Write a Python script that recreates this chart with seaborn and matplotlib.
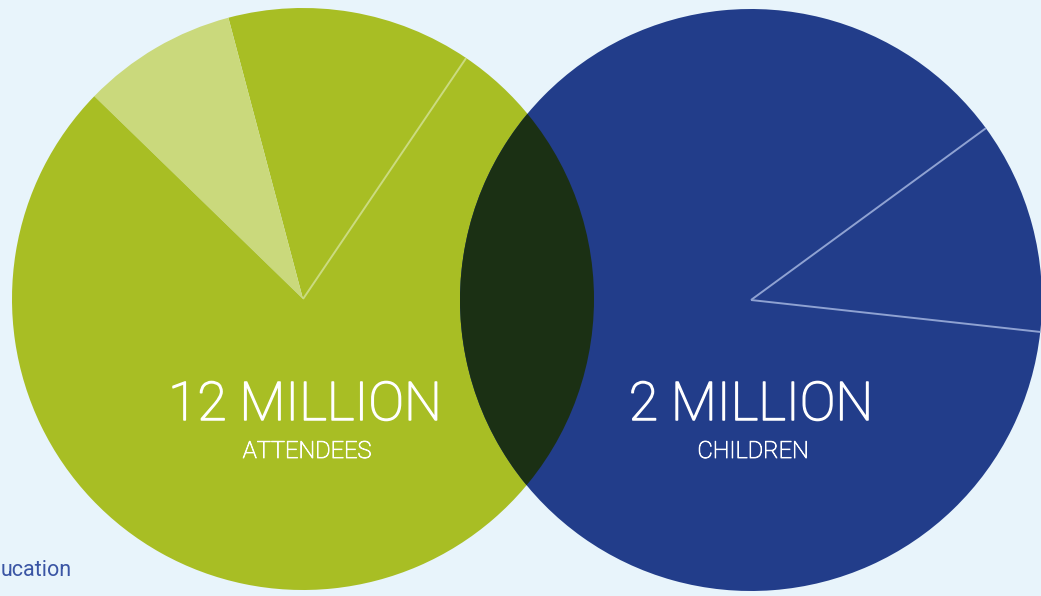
import matplotlib
matplotlib.use("Agg")
import matplotlib.pyplot as plt
import matplotlib.patches as mpatches
import matplotlib.patheffects as pe
import numpy as np
import seaborn as sns

# data
attendee_shares = [13.6, 8.6, 77.8]
attendee_colors = ["#a8be24", "#cad97c", "#a8be24"]
children_shares = [11.8, 88.2]
children_colors = ["#223d8a", "#223d8a"]
headlines = ["12 MILLION", "2 MILLION"]
sublabels = ["ATTENDEES", "CHILDREN"]

bg = "#e8f4fb"
sns.set_style("white", {"axes.facecolor": bg, "figure.facecolor": bg})
plt.rcParams["font.family"] = ["Roboto", "DejaVu Sans"]

fig = plt.figure(figsize=(10.41, 5.96), dpi=100)
ax = fig.add_axes([0, 0, 1, 1])

H = 596
r = 291
c_left = (303, H - 299)
c_right = (751, H - 300)

wl, _ = ax.pie(attendee_shares, colors=attendee_colors, startangle=55.9,
               counterclock=True, radius=r, center=c_left,
               wedgeprops=dict(linewidth=0, antialiased=True))
wr, _ = ax.pie(children_shares, colors=children_colors, startangle=-6.3,
               counterclock=True, radius=r, center=c_right,
               wedgeprops=dict(linewidth=0, antialiased=True))

# dark lens where the two circles overlap
clip = mpatches.Circle(c_right, r, transform=ax.transData, facecolor="none", edgecolor="none")
ax.add_patch(clip)
lens = mpatches.Circle(c_left, r, facecolor="#1b3014", edgecolor="none")
ax.add_patch(lens)
lens.set_clip_path(clip)

# thin separator lines
def spoke(center, ang, color):
    a = np.deg2rad(ang)
    ax.plot([center[0], center[0] + r * np.cos(a)],
            [center[1], center[1] + r * np.sin(a)],
            color=color, lw=1.4, solid_capstyle="butt")

spoke(c_left, wl[0].theta1, "#cbdb80")
spoke(c_right, wr[0].theta1, "#8fa2d2")
spoke(c_right, wr[0].theta2, "#8fa2d2")

thicken = [pe.withStroke(linewidth=1.1, foreground="white")]
for cx, big, small in zip([c_left[0] + 2, c_right[0]], headlines, sublabels):
    ax.text(cx, H - 420, big, color="white", fontsize=38.5, fontweight="light",
            ha="center", va="baseline", path_effects=thicken)
    ax.text(cx + 2, H - 458, small, color="white", fontsize=17, fontweight="light",
            ha="center", va="baseline",
            path_effects=[pe.withStroke(linewidth=0.6, foreground="white")])

ax.text(1, H - 576, "ucation", color="#3a55a4", fontsize=15.5, ha="left", va="baseline")

ax.set_xlim(0, 1041)
ax.set_ylim(0, H)
ax.set_aspect("equal")
ax.axis("off")

fig.savefig("out.png", dpi=100, facecolor=bg)
